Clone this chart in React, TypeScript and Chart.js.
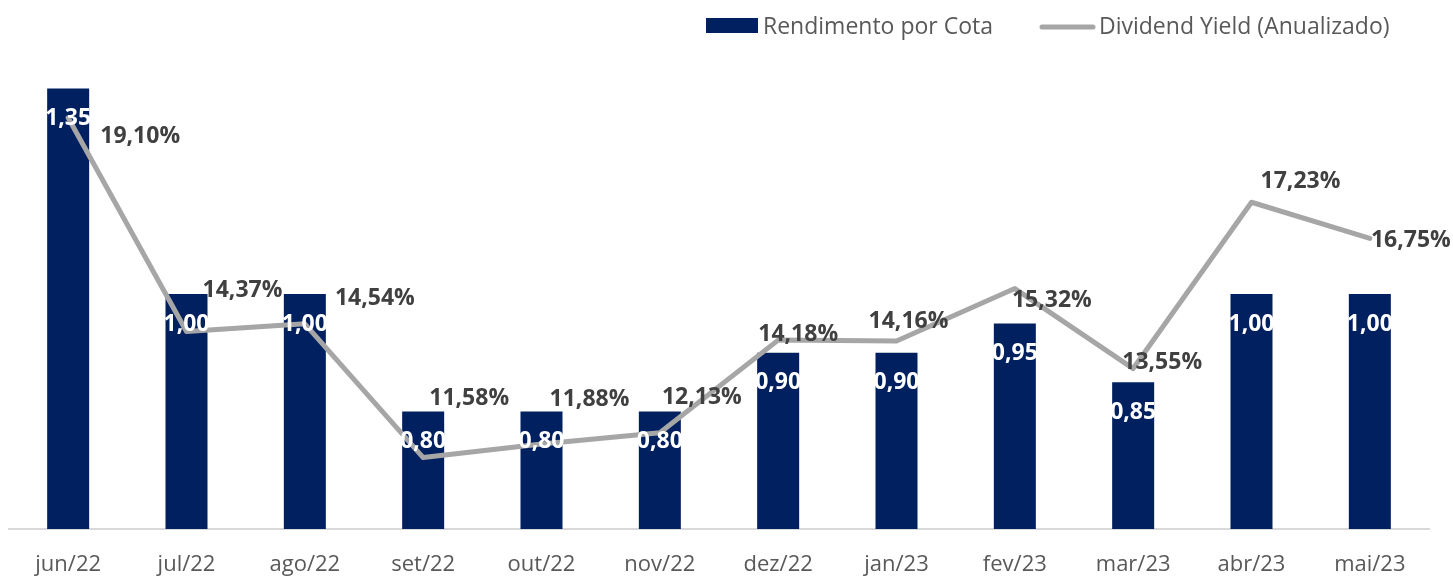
import React, { useEffect, useRef } from "react";
import { Chart, registerables } from "chart.js";

Chart.register(...registerables);

const categories = ["jun/22", "jul/22", "ago/22", "set/22", "out/22", "nov/22", "dez/22", "jan/23", "fev/23", "mar/23", "abr/23", "mai/23"];
const rendimento = [1.35, 1.0, 1.0, 0.8, 0.8, 0.8, 0.9, 0.9, 0.95, 0.85, 1.0, 1.0];
// plotted values
const dividendYield = [19.1, 14.37, 14.54, 11.58, 11.88, 12.13, 14.18, 14.16, 15.32, 13.55, 17.23, 16.43];
// label texts, as printed in the picture
const dividendYieldLabels = ["19,10%", "14,37%", "14,54%", "11,58%", "11,88%", "12,13%", "14,18%", "14,16%", "15,32%", "13,55%", "17,23%", "16,75%"];
// label offsets (style) relative to each line point
const yieldLabelDx = [72, 56, 70, 46, 48, 42, 20, 12, 37, 29, 49, 41];
const yieldLabelDy = [19, -41, -25, -59, -45, -35, -6, -20, 12, -6, -21, 2];

const NAVY = "#002060";
const GRAY = "#A6A6A6";
const FONT = "'Open Sans', sans-serif";

const fmt = (v: number, d: number) => v.toFixed(d).replace(".", ",");

const labelPlugin = {
  id: "labels",
  afterDatasetsDraw(chart: any) {
    const ctx = chart.ctx;
    ctx.save();
    // line labels
    const lineMeta = chart.getDatasetMeta(0);
    ctx.font = `bold 23px ${FONT}`;
    ctx.fillStyle = "#404040";
    ctx.textAlign = "center";
    ctx.textBaseline = "middle";
    lineMeta.data.forEach((el: any, i: number) => {
      ctx.fillText(dividendYieldLabels[i], el.x + yieldLabelDx[i], el.y + yieldLabelDy[i]);
    });
    // bar labels
    const barMeta = chart.getDatasetMeta(1);
    ctx.fillStyle = "#FFFFFF";
    barMeta.data.forEach((el: any, i: number) => {
      ctx.fillText(fmt(rendimento[i], 2), el.x, el.y + 30);
    });
    // legend
    ctx.fillStyle = NAVY;
    ctx.fillRect(706, 18, 52, 15);
    ctx.font = `23px ${FONT}`;
    ctx.fillStyle = "#595959";
    ctx.textAlign = "left";
    ctx.fillText("Rendimento por Cota", 763, 27);
    ctx.strokeStyle = GRAY;
    ctx.lineWidth = 5;
    ctx.lineCap = "round";
    ctx.beginPath();
    ctx.moveTo(1042, 27);
    ctx.lineTo(1093, 27);
    ctx.stroke();
    ctx.fillText("Dividend Yield (Anualizado)", 1099, 27);
    ctx.restore();
  },
};

export default function App() {
  const ref = useRef<HTMLCanvasElement>(null);
  useEffect(() => {
    if (!ref.current) return;
    const chart = new Chart(ref.current, {
      type: "bar",
      data: {
        labels: categories,
        datasets: [
          {
            type: "line",
            label: "Dividend Yield (Anualizado)",
            data: dividendYield,
            yAxisID: "y2",
            borderColor: GRAY,
            backgroundColor: GRAY,
            borderWidth: 5,
            pointRadius: 0,
            tension: 0,
            order: 0,
            borderJoinStyle: "round",
            borderCapStyle: "round",
          } as any,
          {
            type: "bar",
            label: "Rendimento por Cota",
            data: rendimento,
            yAxisID: "y",
            backgroundColor: NAVY,
            categoryPercentage: 1,
            barPercentage: 0.355,
            order: 1,
          },
        ],
      },
      options: {
        animation: false,
        responsive: false,
        layout: { padding: { left: 9, right: 24, top: 59, bottom: 0 } },
        plugins: { legend: { display: false }, tooltip: { enabled: false } },
        scales: {
          x: {
            grid: { display: false, drawTicks: false },
            border: { display: true, color: "#D9D9D9", width: 2 },
            ticks: { color: "#595959", font: { family: FONT, size: 22 }, padding: 23 },
            afterFit: (s: any) => { s.height = 48; },
          },
          y: { display: false, min: 0.6, max: 1.4 },
          y2: { display: false, min: 10, max: 20.4 },
        },
      },
      plugins: [labelPlugin],
    });
    return () => chart.destroy();
  }, []);
  return (
    <div style={{ position: "fixed", left: 0, top: 0, width: 1453, height: 577, background: "#fff" }}>
      <canvas ref={ref} width={1453} height={577} />
    </div>
  );
}
